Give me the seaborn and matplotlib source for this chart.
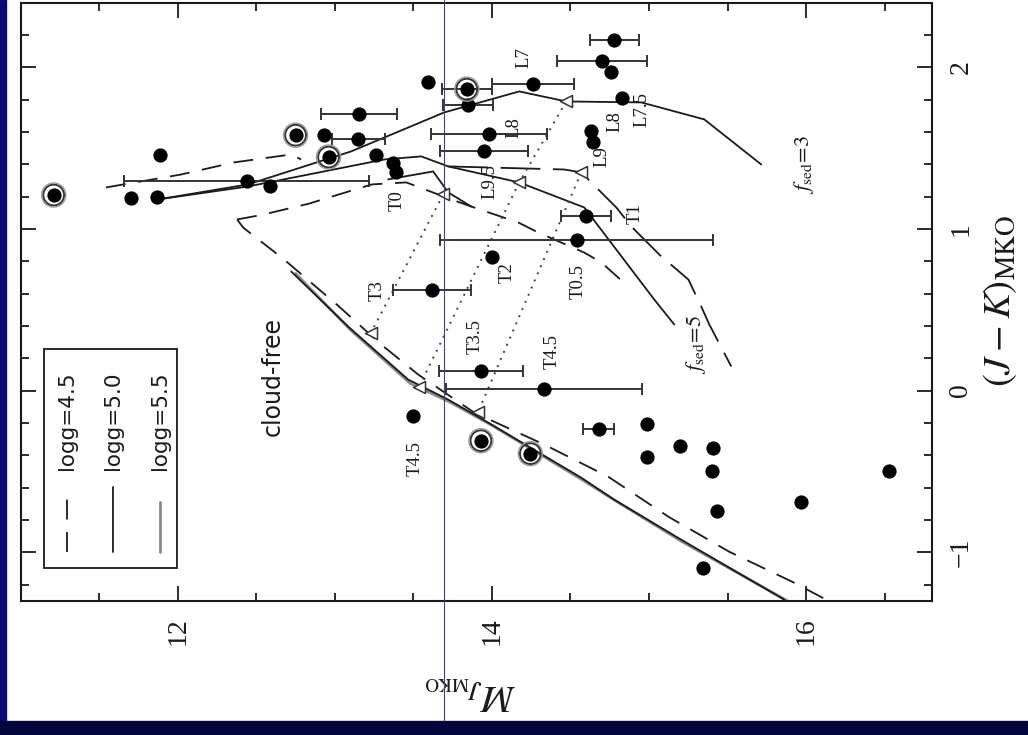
import matplotlib
matplotlib.use("Agg")
import matplotlib.pyplot as plt
import seaborn as sns
from matplotlib.lines import Line2D
from matplotlib.patches import Rectangle
from matplotlib.ticker import MultipleLocator

# ---------------- observed dwarfs ----------------
mj_obs = [11.21, 11.70, 11.87, 11.89, 12.44, 12.59, 12.75, 12.93, 13.15, 13.155,
          12.96, 13.26, 13.37, 13.39, 14.78, 14.70, 14.76, 14.83, 14.26, 13.59,
          13.84, 13.85, 13.98, 13.95, 14.63, 14.645, 14.60, 14.54, 14.00, 13.62,
          13.93, 14.33, 13.50, 13.93, 14.245, 14.68, 14.99, 14.99, 15.20, 15.41,
          15.40, 15.43, 15.345, 15.97, 16.53]
jk_obs = [1.21, 1.19, 1.195, 1.455, 1.295, 1.265, 1.58, 1.58, 1.555, 1.71,
          1.445, 1.46, 1.41, 1.35, 2.17, 2.04, 1.97, 1.81, 1.90, 1.91,
          1.865, 1.765, 1.59, 1.48, 1.605, 1.54, 1.08, 0.93, 0.825, 0.62,
          0.12, 0.01, -0.155, -0.31, -0.39, -0.24, -0.205, -0.41, -0.345, -0.355,
          -0.495, -0.745, -1.095, -0.69, -0.495]
mj_err = [0, 0, 0, 0, 0.78, 0, 0, 0, 0.17, 0.24,
          0, 0, 0, 0, 0.155, 0.285, 0, 0, 0.26, 0,
          0.16, 0.16, 0.37, 0.28, 0, 0, 0.16, 0.87, 0, 0.25,
          0.27, 0.625, 0, 0, 0, 0.10, 0, 0, 0, 0,
          0, 0, 0, 0, 0]
ringed = [1, 0, 0, 0, 0, 0, 1, 0, 0, 0,
          1, 0, 0, 0, 0, 0, 0, 0, 0, 0,
          1, 0, 0, 0, 0, 0, 0, 0, 0, 0,
          0, 0, 0, 1, 1, 0, 0, 0, 0, 0,
          0, 0, 0, 0, 0]

# spectral types written next to some of the dwarfs (index into the arrays above)
spt_names = ["L7", "L7.5", "L8", "L9", "L8", "L9.5", "T0", "T1", "T0.5",
             "T2", "T3", "T3.5", "T4.5", "T4.5"]
spt_index = [18, 17, 24, 25, 22, 23, 13, 26, 27, 28, 29, 30, 31, 32]

# ---------------- model sequences ----------------
# cloudy, f_sed = 3, log g = 5.0
f3_g50_mj = [11.875, 12.448, 13.104, 13.696, 14.174, 14.473, 14.951, 15.352, 15.715]
f3_g50_jk = [1.183, 1.276, 1.480, 1.721, 1.851, 1.789, 1.783, 1.678, 1.399]
# cloudy, f_sed = 3, log g = 4.5 (bright end)
f3_g45_mj = [11.543, 12.021, 12.359, 12.722, 12.785]
f3_g45_jk = [1.257, 1.337, 1.412, 1.461, 1.430]
# cloudy, f_sed = 5, log g = 5.0
f5_g50_mj = [11.875, 12.448, 13.315, 13.550, 13.722, 14.174, 14.588, 15.034, 15.161]
f5_g50_jk = [1.183, 1.263, 1.430, 1.449, 1.387, 1.288, 1.133, 0.563, 0.409]
# cloudy, f_sed = 5, log g = 4.5
f5_g45_mj = [12.378, 12.535, 12.828, 13.237, 13.455, 13.741, 13.868, 14.168, 14.295, 14.588, 14.696, 14.868]
f5_g45_jk = [1.059, 1.087, 1.155, 1.276, 1.288, 1.183, 1.139, 1.040, 0.978, 0.854, 0.793, 0.644]
# cloudy, log g = 4.5 through the T1 region
cl_g45b_mj = [13.722, 14.461, 14.569, 14.792, 14.888, 15.078, 15.161, 15.251, 15.333, 15.384, 15.524]
cl_g45b_jk = [1.387, 1.368, 1.350, 1.133, 1.015, 0.830, 0.762, 0.687, 0.520, 0.409, 0.149]
# short cloudy branch near T0
cl_br_mj = [13.340, 13.626, 13.722, 13.868]
cl_br_jk = [1.307, 1.356, 1.226, 1.139]

# cloud-free sequences
cf_g45_mj = [12.378, 12.416, 12.677, 13.027, 13.295, 13.531, 13.887, 14.333, 14.741, 15.123, 15.511, 15.925, 16.129]
cf_g45_jk = [1.059, 1.009, 0.811, 0.520, 0.285, 0.099, -0.136, -0.334, -0.533, -0.780, -0.997, -1.189, -1.294]
cf_g50_mj = [12.722, 13.085, 13.467, 13.722, 13.976, 14.569, 14.779, 15.206, 15.862]
cf_g50_jk = [0.737, 0.396, 0.068, -0.056, -0.198, -0.539, -0.675, -0.923, -1.294]
cf_g55_mj = [12.75, 13.10, 13.48, 13.74, 14.00, 14.58, 14.80, 15.22, 15.88]
cf_g55_jk = [0.725, 0.375, 0.045, -0.075, -0.215, -0.555, -0.690, -0.940, -1.300]

# equal-temperature tracks (dotted) and their model points (triangles)
iso1_mj = [14.473, 14.174, 13.537]
iso1_jk = [1.789, 1.288, 0.025]
iso2_mj = [13.690, 13.231]
iso2_jk = [1.214, 0.359]
iso3_mj = [14.569, 13.913]
iso3_jk = [1.350, -0.130]
tri_mj = [14.473, 14.174, 13.690, 14.569, 13.231, 13.537, 13.913]
tri_jk = [1.789, 1.288, 1.214, 1.350, 0.359, 0.025, -0.130]

legend_labels = ["logg=4.5", "logg=5.0", "logg=5.5"]

# ---------------- styling ----------------
sns.set_theme(style="ticks")
plt.rcParams["font.family"] = ["Liberation Serif", "DejaVu Serif"]
plt.rcParams["mathtext.fontset"] = "stix"

DASH = (0, (11, 7))
INK = "#1a1a1a"
GREY55 = "#8a8a8a"

fig = plt.figure(figsize=(10.28, 7.35), dpi=100)
fig.patch.set_facecolor("white")

# slide frame: blue strip on the left, dark band at the bottom
fig.add_artist(Rectangle((0, 0), 6 / 1028, 1, transform=fig.transFigure,
                         color="#0b0b6b", zorder=0))
fig.add_artist(Rectangle((0, 0), 1, 14.3 / 735, transform=fig.transFigure,
                         color="#05053d", zorder=0))

ax = fig.add_axes([20.7 / 1028, 1 - 600.7 / 735, 911 / 1028, 598 / 735])
ax.set_facecolor("white")

line_kw = dict(sort=False, estimator=None, legend=False, ax=ax)

# cloud-free
sns.lineplot(x=cf_g45_mj, y=cf_g45_jk, color=INK, lw=1.3, linestyle=DASH, **line_kw)
sns.lineplot(x=cf_g55_mj, y=cf_g55_jk, color=GREY55, lw=2.0, **line_kw)
sns.lineplot(x=cf_g50_mj, y=cf_g50_jk, color=INK, lw=1.3, **line_kw)
# cloudy
sns.lineplot(x=f3_g50_mj, y=f3_g50_jk, color=INK, lw=1.3, **line_kw)
sns.lineplot(x=f3_g45_mj, y=f3_g45_jk, color=INK, lw=1.3, linestyle=DASH, **line_kw)
sns.lineplot(x=f5_g50_mj, y=f5_g50_jk, color=INK, lw=1.3, **line_kw)
sns.lineplot(x=f5_g45_mj, y=f5_g45_jk, color=INK, lw=1.3, linestyle=DASH, **line_kw)
sns.lineplot(x=cl_g45b_mj, y=cl_g45b_jk, color=INK, lw=1.3, linestyle=(0, (22, 7)), **line_kw)
sns.lineplot(x=cl_br_mj, y=cl_br_jk, color=INK, lw=1.3, **line_kw)
# equal-temperature tracks
for xm, ym in [(iso1_mj, iso1_jk), (iso2_mj, iso2_jk), (iso3_mj, iso3_jk)]:
    sns.lineplot(x=xm, y=ym, color="#444444", lw=1.4, linestyle=(0, (1, 3)), **line_kw)
sns.scatterplot(x=tri_mj, y=tri_jk, marker="<", s=75, facecolor="white",
                edgecolor="#333333", linewidth=1.1, zorder=4, ax=ax, legend=False)

# observed dwarfs
ex = [m for m, e in zip(mj_obs, mj_err) if e > 0]
ey = [j for j, e in zip(jk_obs, mj_err) if e > 0]
ee = [e for e in mj_err if e > 0]
ax.errorbar(ex, ey, xerr=ee, fmt="none", ecolor="#333333", elinewidth=1.4,
            capsize=4, capthick=1.4, zorder=5)
sns.scatterplot(x=mj_obs, y=jk_obs, color="black", s=105, linewidth=0,
                zorder=6, ax=ax, legend=False)
rx = [m for m, r in zip(mj_obs, ringed) if r]
ry = [j for j, r in zip(jk_obs, ringed) if r]
ax.scatter(rx, ry, s=225, facecolors="none", edgecolors="#333333", linewidths=1.4, zorder=6)
ax.scatter(rx, ry, s=300, facecolors="none", edgecolors="#9a9a9a", linewidths=1.0, zorder=6)

# spectral type labels
spt_offsets = [(-6, 19), (14, -8), (17, 7), (6, -11), (18, 4), (4, -22), (1, -20),
               (35, 2), (1, -30), (11, -11), (-40, 0), (-4, 25), (6, 27), (1, -31)]
for name, i, off in zip(spt_names, spt_index, spt_offsets):
    ax.annotate(name, (mj_obs[i], jk_obs[i]), xytext=off, textcoords="offset points",
                rotation=90, ha="center", va="center", fontsize=13.5, color=INK, zorder=7)

# sequence labels
ax.text(12.607, 0.087, "cloud-free", rotation=90, ha="center", va="center",
        fontsize=17, family="DejaVu Sans", color=INK)
ax.text(15.989, 1.399, r"$f_{\rm sed}\!=\!3$", rotation=90, ha="center", va="center",
        fontsize=16, color=INK)
ax.text(15.301, 0.285, r"$f_{\rm sed}\!=\!5$", rotation=90, ha="center", va="center",
        fontsize=16, color=INK)

# gravity key
ax.add_patch(Rectangle((0.0256, 0.0547), 0.146, 0.3662, transform=ax.transAxes,
                       fill=False, edgecolor=INK, lw=1.3, zorder=8))
key_x = [0.0508, 0.1014, 0.1530]
key_style = [dict(color=INK, lw=1.3, linestyle=DASH),
             dict(color=INK, lw=1.3),
             dict(color=GREY55, lw=2.0)]
key_top = [0.1768, 0.1901, 0.1651]
for lab, kx, st, kt in zip(legend_labels, key_x, key_style, key_top):
    ax.text(kx, 0.2186, lab, rotation=90, ha="center", va="bottom",
            fontsize=15.5, family="DejaVu Sans", color=INK, transform=ax.transAxes)
    ax.add_line(Line2D([kx, kx], [0.0815, kt], transform=ax.transAxes, **st))

# axes
ax.set_xlim(11.0, 16.8)
ax.set_ylim(-1.3, 2.4)
ax.xaxis.set_major_locator(MultipleLocator(2))
ax.xaxis.set_minor_locator(MultipleLocator(0.5))
ax.yaxis.set_major_locator(MultipleLocator(1))
ax.yaxis.set_minor_locator(MultipleLocator(0.2))
ax.tick_params(which="both", direction="in", top=True, right=True, bottom=True, left=True,
               labelleft=False, labelright=True, labelbottom=True, labeltop=False,
               colors=INK, width=1.3)
ax.tick_params(which="minor", length=6)
ax.tick_params(axis="x", which="major", length=11, labelsize=20, pad=12,
               labelrotation=90)
ax.tick_params(axis="y", which="major", length=11, labelsize=20, pad=12,
               labelrotation=90)
for lab in ax.get_yticklabels():
    lab.set_va("center")
for sp in ax.spines.values():
    sp.set_color(INK)
    sp.set_linewidth(1.5)

fig.text(470 / 1028, 1 - 693 / 735, r"$M_{J_{\rm MKO}}$", rotation=180,
         ha="center", va="center", fontsize=28, color=INK)
fig.text(1000 / 1028, 1 - 301 / 735, r"$(J-K)_{\rm MKO}$", rotation=90,
         ha="center", va="center", fontsize=28, color=INK)

# thin blue guide across the slide
fig.add_artist(Line2D([444.3 / 1028, 444.3 / 1028], [14.3 / 735, 1], transform=fig.transFigure,
                      color="#3c3c9a", lw=0.8, zorder=20))

fig.savefig("out.png", dpi=100, facecolor=fig.get_facecolor())
